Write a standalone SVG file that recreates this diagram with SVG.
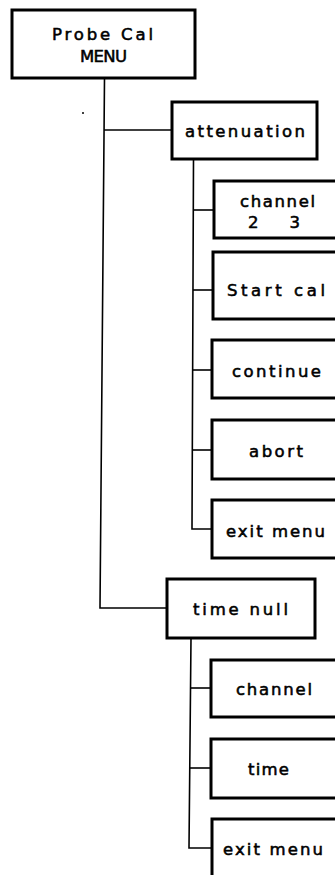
<svg xmlns="http://www.w3.org/2000/svg" width="335" height="875" viewBox="0 0 335 875">
<style>
.box{fill:#fff;stroke:#000;stroke-width:3}
.ln{fill:none;stroke:#000;stroke-width:1.6}
text{font-family:"DejaVu Sans","Liberation Sans",sans-serif;font-size:16.5px;fill:#000;stroke:#000;stroke-width:0.55}
</style>
<rect width="335" height="875" fill="#fff"/>
<g id="connectors">
<path class="ln" d="M104.5 78 L100 608 L167 608"/>
<path class="ln" d="M104 130 L172 130"/>
<path class="ln" d="M193.5 159 L192 529 L212 529"/>
<path class="ln" d="M193.3 210 L214 210"/>
<path class="ln" d="M193 290 L213 290"/>
<path class="ln" d="M192.8 370 L212 370"/>
<path class="ln" d="M192.5 450 L212 450"/>
<path class="ln" d="M191 638 L189 848 L212 848"/>
<path class="ln" d="M190.6 688 L211 688"/>
<path class="ln" d="M189.8 768 L211 768"/>
</g>
<circle cx="83" cy="113" r="1" fill="#000"/>
<g id="probe-cal-menu">
<rect class="box" x="12" y="10" width="183" height="68"/>
<text x="52" y="40" textLength="101" lengthAdjust="spacing">Probe Cal</text>
<text x="80" y="62" textLength="47" lengthAdjust="spacing">MENU</text>
</g>
<g id="attenuation">
<rect class="box" x="172" y="102" width="145" height="57"/>
<text x="185" y="137" textLength="120" lengthAdjust="spacing">attenuation</text>
</g>
<g id="channel-2-3">
<rect class="box" x="214" y="181" width="140" height="57"/>
<text x="240" y="207" textLength="75" lengthAdjust="spacing">channel</text>
<text x="248" y="228" textLength="52" lengthAdjust="spacing">2 3</text>
</g>
<g id="start-cal">
<rect class="box" x="213" y="252" width="140" height="67"/>
<text x="227" y="296" textLength="98" lengthAdjust="spacing">Start cal</text>
</g>
<g id="continue">
<rect class="box" x="212" y="340" width="140" height="58"/>
<text x="232" y="377" textLength="89" lengthAdjust="spacing">continue</text>
</g>
<g id="abort">
<rect class="box" x="212" y="420" width="140" height="59"/>
<text x="249" y="457" textLength="54" lengthAdjust="spacing">abort</text>
</g>
<g id="exit-menu-1">
<rect class="box" x="212" y="500" width="140" height="58"/>
<text x="226" y="537" textLength="99" lengthAdjust="spacing">exit menu</text>
</g>
<g id="time-null">
<rect class="box" x="167" y="579" width="148" height="59"/>
<text x="193" y="615" textLength="95" lengthAdjust="spacing">time null</text>
</g>
<g id="channel">
<rect class="box" x="211" y="660" width="140" height="57"/>
<text x="236" y="695" textLength="76" lengthAdjust="spacing">channel</text>
</g>
<g id="time">
<rect class="box" x="211" y="739" width="140" height="59"/>
<text x="248" y="775" textLength="41" lengthAdjust="spacing">time</text>
</g>
<g id="exit-menu-2">
<rect class="box" x="212" y="819" width="140" height="70"/>
<text x="223" y="855" textLength="100" lengthAdjust="spacing">exit menu</text>
</g>
</svg>
